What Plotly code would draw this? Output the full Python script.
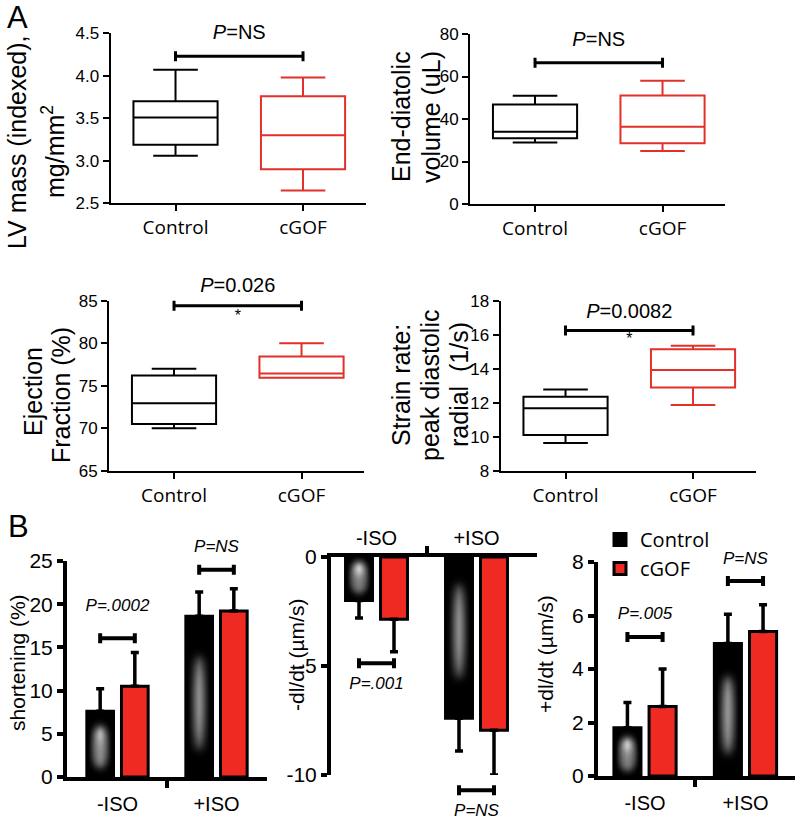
import numpy as np
import plotly.graph_objects as go

W, H = 796, 822

# ---------------- data ----------------
box_groups = ["Control", "cGOF"]
# five-number summaries: lower whisker, Q1, median, Q3, upper whisker
lv_mass_control = [3.06, 3.19, 3.51, 3.70, 4.07]
lv_mass_cgof = [2.65, 2.90, 3.30, 3.76, 3.98]
edv_control = [29.0, 31.0, 34.0, 46.8, 50.9]
edv_cgof = [24.9, 28.6, 36.3, 51.1, 58.0]
ef_control = [70.0, 70.5, 72.95, 76.2, 77.0]
ef_cgof = [75.95, 75.95, 76.45, 78.45, 80.0]
strain_control = [9.63, 10.10, 11.67, 12.35, 12.78]
strain_cgof = [11.86, 12.90, 13.92, 15.14, 15.35]

a_p_labels = ["<i>P</i>=NS", "<i>P</i>=NS", "<i>P</i>=0.026", "<i>P</i>=0.0082"]
a_bracket_levels = [4.23, 66.5, 84.4, 16.24]
a_p_levels = [4.49, 76.9, 86.6, 17.3]
a_star_levels = [None, None, 83.1, 15.7]

iso_conditions = ["-ISO", "+ISO"]
short_control = [7.6, 18.6]
short_control_err = [2.6, 2.8]
short_cgof = [10.5, 19.2]
short_cgof_err = [3.9, 2.6]
neg_dldt_control = [-2.0, -7.4]
neg_dldt_control_err = [0.8, 1.5]
neg_dldt_cgof = [-2.85, -7.95]
neg_dldt_cgof_err = [1.5, 2.05]
pos_dldt_control = [1.8, 4.95]
pos_dldt_control_err = [0.95, 1.1]
pos_dldt_cgof = [2.6, 5.4]
pos_dldt_cgof_err = [1.4, 1.0]

short_p_labels = ["P=.0002", "P=NS"]
short_bracket_levels = [16.05, 24.0]
short_p_levels = [19.7, 26.5]
neg_p_labels = ["P=.001", "P=NS"]
neg_bracket_levels = [-4.87, -10.7]
neg_p_levels = [-5.87, -11.69]
pos_p_labels = ["P=.005", "P=NS"]
pos_bracket_levels = [5.2, 7.29]
pos_p_levels = [6.02, 8.07]

# ---------------- style ----------------
ARIAL = "Liberation Sans, Arial, sans-serif"
MYRIAD = "Open Sans, Liberation Sans, sans-serif"
BOX_RED = "#e2302a"
BAR_RED = "#ef2a22"
BARGAP = 0.3
BARGROUPGAP = 0.23
BAR_OFF = (1 - BARGAP) / 4
EXT = 45 / H  # extra room (paper) for the helper axes that carry brackets / p-values


def xdom(a, b):
    return [a / W, b / W]


def ydom(top, bot):
    return [1 - bot / H, 1 - top / H]


def ax_ids(i):
    s = "" if i == 1 else str(i)
    return "x" + s, "y" + s, "xaxis" + s, "yaxis" + s


fig = go.Figure()
layout = dict(
    width=W, height=H, margin=dict(l=0, r=0, t=0, b=0, autoexpand=False),
    paper_bgcolor="white", plot_bgcolor="rgba(0,0,0,0)",
    font=dict(family=ARIAL, color="black"),
    barmode="group", bargap=BARGAP, bargroupgap=BARGROUPGAP,
    showlegend=True,
)
annotations = []


def helper_axis(k, xa, dom, rng):
    """Invisible y axis with the same scale as the panel's, but taller,
    so brackets and p-values just outside the drawn axis are not clipped."""
    _, hy, _, hkey = ax_ids(k)
    d0, d1 = dom
    s = (rng[1] - rng[0]) / (d1 - d0)
    n0, n1 = max(0.0, d0 - EXT), min(1.0, d1 + EXT)
    layout[hkey] = dict(domain=[n0, n1], range=[rng[0] - (d0 - n0) * s, rng[1] + (n1 - d1) * s],
                        anchor=xa, visible=False, showgrid=False, zeroline=False)
    return hy


def bracket(xa, ya, xc, half, level, thick, capw):
    fig.add_trace(go.Scatter(
        x=[xc], y=[level], mode="markers", xaxis=xa, yaxis=ya,
        marker=dict(size=1, color="rgba(0,0,0,0)"),
        error_x=dict(type="data", array=[half], symmetric=True, color="black",
                     thickness=thick, width=capw),
        showlegend=False, hoverinfo="skip"))


def label(xa, ya, xs, ys, texts, size, family=ARIAL):
    fig.add_trace(go.Scatter(
        x=xs, y=ys, mode="text", text=texts, xaxis=xa, yaxis=ya,
        textposition="middle center", textfont=dict(size=size, family=family, color="black"),
        cliponaxis=False, showlegend=False, hoverinfo="skip"))


# ---------------- panel A (box plots) ----------------
a_panels = [
    dict(c=lv_mass_control, g=lv_mass_cgof, xd=(110.5, 365.5), yd=(33.3, 203.3),
         yr=[2.5, 4.5], tv=[2.5, 3.0, 3.5, 4.0, 4.5], fmt=".1f"),
    dict(c=edv_control, g=edv_cgof, xd=(470, 725), yd=(34, 204),
         yr=[0, 80], tv=[0, 20, 40, 60, 80], fmt="d"),
    dict(c=ef_control, g=ef_cgof, xd=(109, 364), yd=(300.7, 470.7),
         yr=[65, 85], tv=[65, 70, 75, 80, 85], fmt="d"),
    dict(c=strain_control, g=strain_cgof, xd=(500.5, 755.5), yd=(300.7, 470.7),
         yr=[8, 18], tv=[8, 10, 12, 14, 16, 18], fmt="d"),
]

for k, p in enumerate(a_panels):
    xa, ya, xkey, ykey = ax_ids(k + 1)
    for pos, (stats, col) in enumerate([(p["c"], "black"), (p["g"], BOX_RED)]):
        fig.add_trace(go.Box(
            x=[pos], lowerfence=[stats[0]], q1=[stats[1]], median=[stats[2]],
            q3=[stats[3]], upperfence=[stats[4]], orientation="v",
            width=0.66, whiskerwidth=0.53, boxpoints=False,
            line=dict(color=col, width=2), fillcolor="rgba(0,0,0,0)",
            xaxis=xa, yaxis=ya, showlegend=False, hoverinfo="skip"))
    ydomain = ydom(*p["yd"])
    hy = helper_axis(k + 8, xa, ydomain, p["yr"])
    bracket(xa, hy, 0.5, 0.5, a_bracket_levels[k], 3, 5)
    label(xa, hy, [0.5], [a_p_levels[k]], [a_p_labels[k]], 20)
    if a_star_levels[k] is not None:
        label(xa, hy, [0.5], [a_star_levels[k]], ["*"], 16)
    layout[xkey] = dict(
        domain=xdom(*p["xd"]), range=[-0.51, 1.49], anchor=ya,
        tickmode="array", tickvals=[0, 1], ticktext=box_groups,
        ticks="outside", ticklen=6, tickwidth=2, tickcolor="black",
        showline=True, linewidth=2, linecolor="black",
        showgrid=False, zeroline=False,
        tickfont=dict(family=MYRIAD, size=19), ticklabelstandoff=0)
    layout[ykey] = dict(
        domain=ydomain, range=p["yr"], anchor=xa,
        tickmode="array", tickvals=p["tv"], tickformat=p["fmt"],
        ticks="outside", ticklen=6, tickwidth=2, tickcolor="black",
        showline=True, linewidth=2, linecolor="black",
        showgrid=False, zeroline=False, tickfont=dict(size=17))

# ---------------- panel B (bar charts) ----------------
b_panels = [
    dict(c=short_control, ce=short_control_err, g=short_cgof, ge=short_cgof_err,
         xd=(67, 267), xr=[-0.51, 1.51], yd=(561, 777), yr=[0, 25],
         tv=[0, 5, 10, 15, 20, 25], tt=["0", "5", "10", "15", "20", "25"],
         pl=short_p_labels, bl=short_bracket_levels, ptl=short_p_levels, neg=False, legend=False),
    dict(c=neg_dldt_control, ce=neg_dldt_control_err, g=neg_dldt_cgof, ge=neg_dldt_cgof_err,
         xd=(331, 537), xr=[-0.455, 1.605], yd=(557, 775), yr=[-10, 0],
         tv=[0, -5, -10], tt=["0", "-5", "-10"],
         pl=neg_p_labels, bl=neg_bracket_levels, ptl=neg_p_levels, neg=True, legend=False),
    dict(c=pos_dldt_control, ce=pos_dldt_control_err, g=pos_dldt_cgof, ge=pos_dldt_cgof_err,
         xd=(598, 795), xr=[-0.468, 1.493], yd=(562, 776), yr=[0, 8],
         tv=[0, 2, 4, 6, 8], tt=["0", "2", "4", "6", "8"],
         pl=pos_p_labels, bl=pos_bracket_levels, ptl=pos_p_levels, neg=False, legend=True),
]

GLOW_CENTER = 0.46
GLOW_SPREAD = 0.28
GLOW_N = 31

xpos = list(range(len(iso_conditions)))
for k, p in enumerate(b_panels):
    xa, ya, xkey, ykey = ax_ids(k + 5)
    zeros = [0] * len(xpos)
    for name, vals, errs, fill in [("Control", p["c"], p["ce"], "black"),
                                   ("cGOF", p["g"], p["ge"], BAR_RED)]:
        if p["neg"]:
            err = dict(type="data", symmetric=False, array=zeros, arrayminus=errs)
        else:
            err = dict(type="data", symmetric=False, array=errs, arrayminus=zeros)
        err.update(color="black", thickness=3.5, width=4)
        fig.add_trace(go.Bar(
            x=xpos, y=vals, name=name, xaxis=xa, yaxis=ya,
            marker=dict(color=fill, line=dict(color="black", width=3)),
            error_y=err, showlegend=p["legend"], hoverinfo="skip"))
    # white glow inside the control bars
    gx, gy, gop = [], [], []
    for i, v in enumerate(p["c"]):
        for t in np.linspace(-1, 1, GLOW_N):
            gx.append(i - BAR_OFF)
            gy.append(v * GLOW_CENTER + t * abs(v) * GLOW_SPREAD)
            gop.append(0.36 * (1 - 0.8 * t * t))
    fig.add_trace(go.Scatter(
        x=gx, y=gy, mode="markers", xaxis=xa, yaxis=ya,
        marker=dict(size=26, color="rgba(0,0,0,0)", opacity=gop,
                    gradient=dict(type="radial", color="white"), line=dict(width=0)),
        showlegend=False, hoverinfo="skip"))
    ydomain = ydom(*p["yd"])
    hy = helper_axis(k + 12, xa, ydomain, p["yr"])
    for i in xpos:
        bracket(xa, hy, i, BAR_OFF, p["bl"][i], 4, 5)
    label(xa, hy, xpos, p["ptl"], ["<i>%s</i>" % s for s in p["pl"]], 17)
    layout[xkey] = dict(
        domain=xdom(*p["xd"]), range=p["xr"], anchor=ya,
        side="top" if p["neg"] else "bottom",
        tickmode="array", tickvals=xpos, ticktext=iso_conditions, ticks="",
        minor=dict(tickmode="array", tickvals=[0.5], ticks="outside", ticklen=7,
                   tickwidth=4, tickcolor="black"),
        showline=True, linewidth=4, linecolor="black",
        showgrid=False, zeroline=False, tickfont=dict(size=20),
        ticklabelstandoff=0 if p["neg"] else 6)
    layout[ykey] = dict(
        domain=ydomain, range=p["yr"], anchor=xa,
        tickmode="array", tickvals=p["tv"], ticktext=p["tt"],
        ticks="outside", ticklen=6, tickwidth=4, tickcolor="black",
        showline=True, linewidth=4, linecolor="black",
        showgrid=False, zeroline=False, tickfont=dict(size=21))

# ---------------- titles / labels ----------------
ytitles = [
    ("LV mass (indexed),", 17, 142, 25),
    ("mg/mm<sup>2</sup>", 53, 152, 25),
    ("End-diatolic", 401, 117, 25),
    ("volume (uL)", 431, 117, 25),
    ("Ejection", 33, 392, 25),
    ("Fraction (%)", 61, 395, 25),
    ("Strain rate:", 401, 385, 25),
    ("peak diastolic", 430, 385, 25),
    ("radial  (1/s)", 459, 385, 25),
    ("shortening (%)", 17, 663, 21),
    ("-dl/dt (\u00b5m/s)", 296, 655, 21),
    ("+dl/dt (\u00b5m/s)", 545, 654, 21),
]
for txt, xp, yp, fs in ytitles:
    annotations.append(dict(
        text=txt, x=xp / W, y=1 - yp / H, xref="paper", yref="paper",
        xanchor="center", yanchor="middle", textangle=-90, showarrow=False,
        font=dict(size=fs, family=ARIAL)))
for txt, xp, yp in [("A", 17, 17), ("B", 18, 526)]:
    annotations.append(dict(
        text=txt, x=xp / W, y=1 - yp / H, xref="paper", yref="paper",
        xanchor="center", yanchor="middle", showarrow=False,
        font=dict(size=31, family=ARIAL)))

layout["annotations"] = annotations
layout["legend"] = dict(
    x=600 / W, y=1 - 520 / H, xanchor="left", yanchor="top",
    font=dict(family=MYRIAD, size=20), bgcolor="rgba(0,0,0,0)",
    tracegroupgap=0, itemwidth=30)

fig.update_layout(**layout)
fig.write_html("out.html", config={"displayModeBar": False},
               post_script="document.body.style.margin='0';")
